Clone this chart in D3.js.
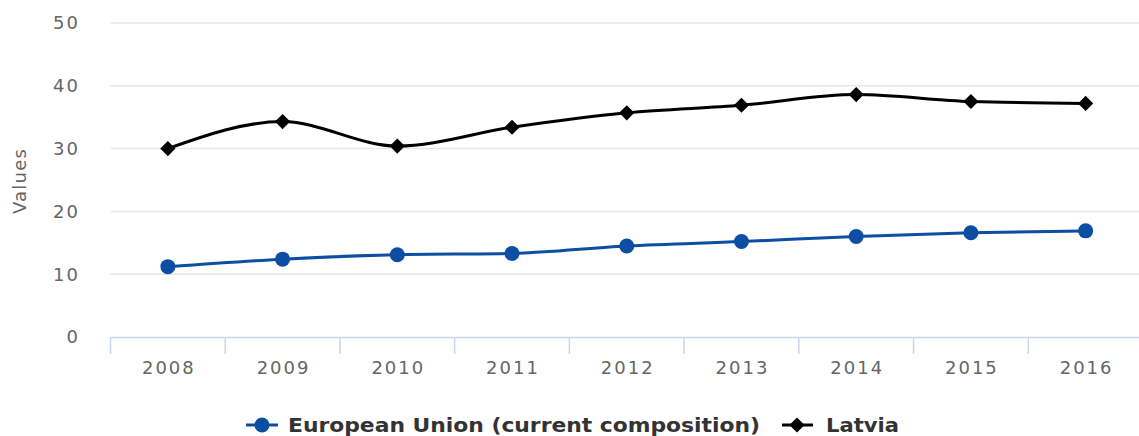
<!DOCTYPE html>
<html><head><meta charset="utf-8">
<script src="https://cdn.jsdelivr.net/npm/d3@7"></script>
<style>body{margin:0;background:#fff}svg{display:block}</style>
</head><body><svg id="c" width="1139" height="436"></svg>
<script>
const years = ["2008","2009","2010","2011","2012","2013","2014","2015","2016"];
const euValues = [11.2, 12.4, 13.1, 13.3, 14.5, 15.2, 16.0, 16.6, 16.9];
const latviaValues = [30.0, 34.3, 30.4, 33.4, 35.7, 36.9, 38.6, 37.5, 37.2];
const yTicks = [0, 10, 20, 30, 40, 50];
const seriesNames = ["European Union (current composition)", "Latvia"];

const svg = d3.select("#c");
const plotLeft = 110.5, plotRight = 1143, plotTop = 23, plotBottom = 337;
const x = d3.scaleBand().domain(years).range([plotLeft, plotRight]);
const y = d3.scaleLinear().domain([0, 50]).range([plotBottom, plotTop]);
const font = "DejaVu Sans, Verdana, sans-serif";

// gridlines
svg.append("g").selectAll("line").data(yTicks.filter(d => d > 0)).join("line")
  .attr("x1", plotLeft).attr("x2", 1139)
  .attr("y1", d => y(d)).attr("y2", d => y(d))
  .attr("stroke", "#e6e6e6").attr("stroke-width", 1.5);

// y labels
svg.append("g").selectAll("text").data(yTicks).join("text")
  .attr("x", 80).attr("y", d => y(d)).attr("dy", "0.35em")
  .attr("text-anchor", "end").attr("font-family", font).attr("font-size", 18)
  .attr("letter-spacing", 2)
  .attr("fill", "#666").text(d => d);

// y title
svg.append("text").attr("transform", "translate(26,181) rotate(-90)")
  .attr("text-anchor", "middle").attr("font-family", font).attr("font-size", 18)
  .attr("letter-spacing", 1.2)
  .attr("fill", "#666").text("Values");

// x axis
const xAxis = svg.append("g");
xAxis.append("line").attr("x1", plotLeft).attr("x2", 1139).attr("y1", plotBottom + 0.5).attr("y2", plotBottom + 0.5)
  .attr("stroke", "#ccd6eb").attr("stroke-width", 1.5);
xAxis.selectAll("line.tick").data(years).join("line").attr("class", "tick")
  .attr("x1", d => x(d)).attr("x2", d => x(d))
  .attr("y1", plotBottom).attr("y2", plotBottom + 17)
  .attr("stroke", "#ccd6eb").attr("stroke-width", 1.5);
xAxis.selectAll("text").data(years).join("text")
  .attr("x", d => x(d) + x.bandwidth() / 2 + 1).attr("y", 374)
  .attr("text-anchor", "middle").attr("font-family", font).attr("font-size", 18)
  .attr("letter-spacing", 2)
  .attr("fill", "#666").text(d => d);

const cx = d => x(d) + x.bandwidth() / 2;
const line = d3.line().x(d => cx(d[0])).y(d => y(d[1])).curve(d3.curveMonotoneX);

const euColor = "#0b4ea2", lvColor = "#000";

function drawSeries(vals, color, marker) {
  const data = years.map((yr, i) => [yr, vals[i]]);
  svg.append("path").datum(data).attr("d", line).attr("fill", "none")
    .attr("stroke", color).attr("stroke-width", 3);
  const g = svg.append("g");
  if (marker === "circle") {
    g.selectAll("circle").data(data).join("circle")
      .attr("cx", d => cx(d[0])).attr("cy", d => y(d[1])).attr("r", 7.5).attr("fill", color);
  } else {
    g.selectAll("path").data(data).join("path")
      .attr("d", d3.symbol().type(d3.symbolSquare).size(115))
      .attr("transform", d => `translate(${cx(d[0])},${y(d[1])}) rotate(45)`).attr("fill", color);
  }
}
drawSeries(euValues, euColor, "circle");
drawSeries(latviaValues, lvColor, "diamond");

// legend
const lg = svg.append("g").attr("font-family", font).attr("font-weight", "bold").attr("font-size", 19).attr("fill", "#333");
lg.append("line").attr("x1", 246).attr("x2", 278).attr("y1", 425).attr("y2", 425).attr("stroke", euColor).attr("stroke-width", 3);
lg.append("circle").attr("cx", 262).attr("cy", 425).attr("r", 7.5).attr("fill", euColor);
const t1 = lg.append("text").attr("x", 288).attr("y", 425).attr("dy", "0.35em").text(seriesNames[0]);
lg.append("line").attr("x1", 782).attr("x2", 813).attr("y1", 425).attr("y2", 425).attr("stroke", lvColor).attr("stroke-width", 3);
lg.append("path").attr("d", d3.symbol().type(d3.symbolSquare).size(115)).attr("transform", "translate(797,425) rotate(45)").attr("fill", lvColor);
const t2 = lg.append("text").attr("x", 826).attr("y", 425).attr("dy", "0.35em").text(seriesNames[1]);
t1.attr("textLength", 472).attr("lengthAdjust", "spacingAndGlyphs");
t2.attr("textLength", 73).attr("lengthAdjust", "spacingAndGlyphs");
</script></body></html>
